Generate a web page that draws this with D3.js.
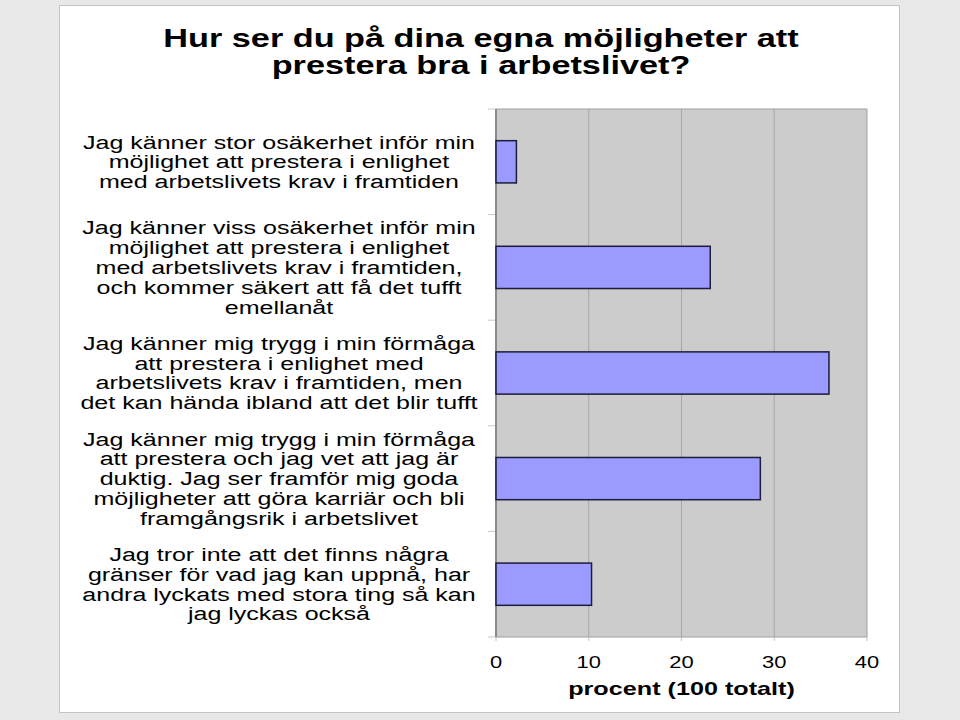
<!DOCTYPE html>
<html>
<head>
<meta charset="utf-8">
<script src="https://cdn.jsdelivr.net/npm/d3@7"></script>
<style>
  html, body { margin: 0; padding: 0; background: #e8e8e8; }
  svg { display: block; font-family: Arial, "Liberation Sans", sans-serif; }
</style>
</head>
<body>
<svg id="chart" width="960" height="720"></svg>
<script>
const titleLines = ["Hur ser du på dina egna möjligheter att", "prestera bra i arbetslivet?"];
const categories = [
  ["Jag känner stor osäkerhet inför min", "möjlighet att prestera i enlighet", "med arbetslivets krav i framtiden"],
  ["Jag känner viss osäkerhet inför min", "möjlighet att prestera i enlighet", "med arbetslivets krav i framtiden,", "och kommer säkert att få det tufft", "emellanåt"],
  ["Jag känner mig trygg i min förmåga", "att prestera i enlighet med", "arbetslivets krav i framtiden, men", "det kan hända ibland att det blir tufft"],
  ["Jag känner mig trygg i min förmåga", "att prestera och jag vet att jag är", "duktig. Jag ser framför mig goda", "möjligheter att göra karriär och bli", "framgångsrik i arbetslivet"],
  ["Jag tror inte att det finns några", "gränser för vad jag kan uppnå, har", "andra lyckats med stora ting så kan", "jag lyckas också"]
];
const values = [2.2, 23.1, 35.9, 28.5, 10.3];
const xTicks = [0, 10, 20, 30, 40];
const xTitle = "procent (100 totalt)";

(function () {
const SX = 1.37; // horizontal stretch of the original picture
const svg = d3.select("#chart");

// panel
svg.append("rect").attr("x", 59.5).attr("y", 5.5).attr("width", 840).attr("height", 707)
  .attr("fill", "#ffffff").attr("stroke", "#c4c4c4").attr("stroke-width", 1);

const pL = 496, pR = 867, pT = 109, pB = 637;
const x = d3.scaleLinear().domain([0, 40]).range([pL, pR]);
const y = d3.scaleBand().domain(d3.range(categories.length)).range([pT, pB]).paddingInner(0.6).paddingOuter(0.3);
const yb = d3.scaleBand().domain(d3.range(categories.length)).range([pT, pB]);

function stretchedText(g, cx, cy, txt, size, weight, sx) {
  return g.append("text")
    .attr("transform", `translate(${cx},${cy}) scale(${sx || SX},1)`)
    .attr("text-anchor", "middle")
    .attr("font-size", size)
    .attr("font-weight", weight || "normal")
    .attr("fill", "#000")
    .text(txt);
}

// title
const tg = svg.append("g");
titleLines.forEach((t, i) => stretchedText(tg, 481, 47 + i * 27, t, 25, "bold"));

// plot background
svg.append("rect").attr("x", pL).attr("y", pT).attr("width", pR - pL).attr("height", pB - pT)
  .attr("fill", "#cccccc");

// gridlines
svg.append("g").selectAll("line").data(xTicks.slice(1, -1)).join("line")
  .attr("x1", d => x(d)).attr("x2", d => x(d)).attr("y1", pT).attr("y2", pB)
  .attr("stroke", "#a6a6a6").attr("stroke-width", 1);

// plot border (top/right/bottom)
svg.append("path")
  .attr("d", `M${pL},${pT}H${pR}V${pB}H${pL}`)
  .attr("fill", "none").attr("stroke", "#a0a0a0").attr("stroke-width", 1);

// left ticks at category boundaries
const bounds = d3.range(categories.length + 1).map(i => pT + i * yb.step());
svg.append("g").selectAll("line").data(bounds).join("line")
  .attr("x1", pL - 8).attr("x2", pL).attr("y1", d => d).attr("y2", d => d)
  .attr("stroke", "#c8c8c8").attr("stroke-width", 1);

// left axis line
svg.append("line").attr("x1", pL).attr("x2", pL).attr("y1", pT).attr("y2", pB)
  .attr("stroke", "#8a8a8a").attr("stroke-width", 2);

// bottom ticks
svg.append("g").selectAll("line").data(xTicks).join("line")
  .attr("x1", d => x(d)).attr("x2", d => x(d)).attr("y1", pB).attr("y2", pB + 4)
  .attr("stroke", "#c0c0c0").attr("stroke-width", 1);

// bars
svg.append("g").selectAll("rect").data(values).join("rect")
  .attr("x", x(0)).attr("y", (d, i) => y(i))
  .attr("width", d => x(d) - x(0)).attr("height", y.bandwidth())
  .attr("fill", "#9b9bff").attr("stroke", "#1c1c3c").attr("stroke-width", 1.5);

// category labels
const lg = svg.append("g");
const LH = 19.8;
categories.forEach((lines, i) => {
  const cy = yb(i) + yb.bandwidth() / 2;
  lines.forEach((t, j) => {
    stretchedText(lg, 279, cy + (j - (lines.length - 1) / 2) * LH + 6.5, t, 18, "normal", 1.39);
  });
});

// x tick labels
const xg = svg.append("g");
xTicks.forEach(v => stretchedText(xg, x(v), 668, String(v), 16));

// x title
stretchedText(svg.append("g"), (pL + pR) / 2, 695, xTitle, 18, "bold", 1.4);
})();
</script>
</body>
</html>
